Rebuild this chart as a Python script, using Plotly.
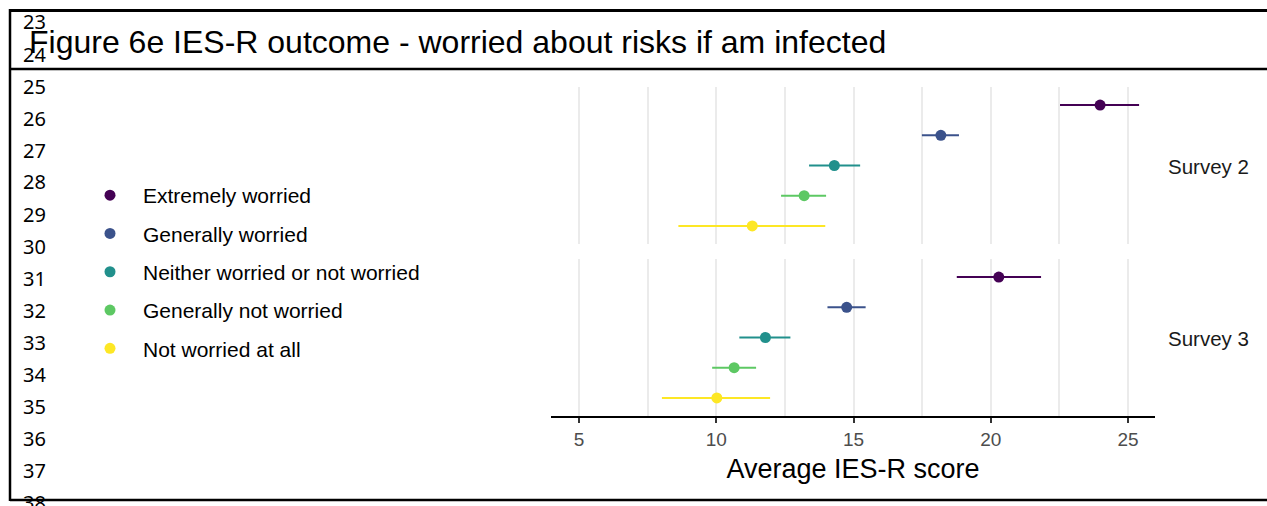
import plotly.graph_objects as go

# ---- data ----
categories = ["Extremely worried", "Generally worried", "Neither worried or not worried",
              "Generally not worried", "Not worried at all"]
colors = ["#440154", "#3B528B", "#21908C", "#5DC863", "#FDE725"]
surveys = ["Survey 2", "Survey 3"]

s2_mean = [23.98, 18.18, 14.30, 13.20, 11.31]
s2_low = [22.52, 17.49, 13.38, 12.36, 8.62]
s2_high = [25.40, 18.84, 15.24, 14.00, 13.97]

s3_mean = [20.29, 14.75, 11.79, 10.65, 10.02]
s3_low = [18.76, 14.05, 10.84, 9.85, 8.02]
s3_high = [21.83, 15.44, 12.70, 11.45, 11.96]

x_ticks = [5, 10, 15, 20, 25]
row_numbers = list(range(23, 39))
title_text = "Figure 6e IES-R outcome - worried about risks if am infected"

W, H = 1267, 506
def px(x):
    return x / W
def py(y):
    return 1 - y / H

fig = go.Figure()

data = [(s2_mean, s2_low, s2_high, "x", "y"), (s3_mean, s3_low, s3_high, "x2", "y2")]
for si, (m, lo, hi, xa, ya) in enumerate(data):
    for i, cat in enumerate(categories):
        fig.add_trace(go.Scatter(
            x=[m[i]], y=[cat], xaxis=xa, yaxis=ya, mode="markers",
            name=cat, legendgroup=cat, showlegend=(si == 0),
            marker=dict(color=colors[i], size=11),
            error_x=dict(type="data", symmetric=False,
                         array=[hi[i] - m[i]], arrayminus=[m[i] - lo[i]],
                         color=colors[i], thickness=2, width=0),
        ))

cat_order = categories[::-1]
font_main = "Liberation Sans, Arial, sans-serif"
xrange = [3.98, 25.98]
common_x = dict(range=xrange, tickvals=x_ticks, showgrid=True, gridcolor="#ebebeb",
                gridwidth=1.6, zeroline=False,
                minor=dict(dtick=2.5, tick0=0, showgrid=True, gridcolor="#ebebeb", gridwidth=1.6),
                domain=[px(551), px(1155)])
fig.update_layout(
    xaxis=dict(**common_x, anchor="y", showticklabels=False, ticks="", showline=False,
               matches="x2"),
    xaxis2=dict(**common_x, anchor="y2", showline=True, linecolor="black", linewidth=2,
                ticks="outside", ticklen=5, tickwidth=1.5, tickcolor="#333333",
                tickfont=dict(family=font_main, size=19, color="#4d4d4d"),
                title=dict(text="Average IES-R score", standoff=10,
                           font=dict(family=font_main, size=27, color="black"))),
    yaxis=dict(domain=[py(244), py(87)], type="category", categoryorder="array",
               categoryarray=cat_order, range=[-0.6, 4.6], showticklabels=False,
               showgrid=False, zeroline=False, ticks=""),
    yaxis2=dict(domain=[py(416), py(259)], type="category", categoryorder="array",
                categoryarray=cat_order, range=[-0.6, 4.6], showticklabels=False,
                showgrid=False, zeroline=False, ticks=""),
    width=W, height=H, margin=dict(l=0, r=0, t=0, b=0),
    paper_bgcolor="white", plot_bgcolor="white",
    showlegend=True,
    legend=dict(x=px(77), y=py(175), xanchor="left", yanchor="top",
                font=dict(family=font_main, size=21, color="black"),
                tracegroupgap=8, itemwidth=56, bgcolor="rgba(0,0,0,0)"),
)

# strip labels
for s, yc in zip(surveys, [166.5, 338.5]):
    fig.add_annotation(x=px(1166), y=py(yc), xref="paper", yref="paper", text=s,
                       showarrow=False, xanchor="left", yanchor="middle",
                       font=dict(family=font_main, size=20.5, color="#1a1a1a"))

# spreadsheet frame
shapes = [
    dict(type="line", x0=px(10), x1=1, y0=py(10.5), y1=py(10.5), line=dict(color="black", width=3)),
    dict(type="line", x0=px(10), x1=1, y0=py(69), y1=py(69), line=dict(color="black", width=2.5)),
    dict(type="line", x0=px(10), x1=1, y0=py(500), y1=py(500), line=dict(color="black", width=2.5)),
    dict(type="line", x0=px(10), x1=px(10), y0=py(9), y1=py(501), line=dict(color="black", width=2.5)),
]
for s in shapes:
    s.update(xref="paper", yref="paper", layer="above")
fig.update_layout(shapes=shapes)

# row numbers
for n in row_numbers:
    yc = 22 + 32 * (n - 23)
    fig.add_annotation(x=px(21), y=py(yc), xref="paper", yref="paper", text=str(n),
                       showarrow=False, xanchor="left", yanchor="middle",
                       font=dict(family="Noto Sans, Open Sans, sans-serif", size=20, color="black"))

fig.add_annotation(x=px(27), y=py(42), xref="paper", yref="paper", text=title_text,
                   showarrow=False, xanchor="left", yanchor="middle",
                   font=dict(family=font_main, size=32, color="black"))

fig.write_html("out.html")
